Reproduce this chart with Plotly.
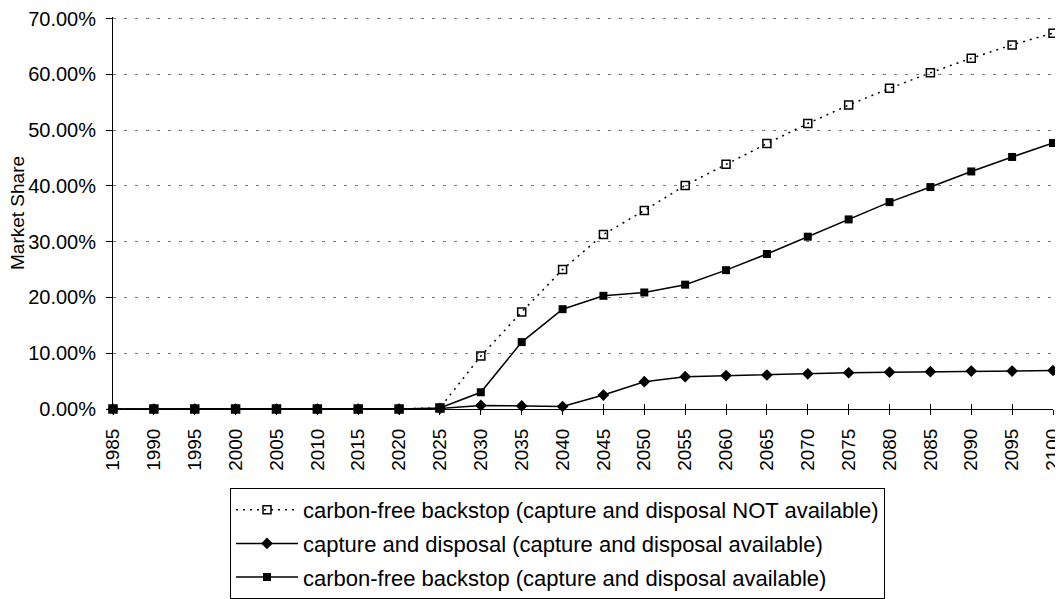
import plotly.graph_objects as go

years = [1985, 1990, 1995, 2000, 2005, 2010, 2015, 2020, 2025, 2030, 2035, 2040,
         2045, 2050, 2055, 2060, 2065, 2070, 2075, 2080, 2085, 2090, 2095, 2100]

# Market share (%)
backstop_no_cd = [0, 0, 0, 0, 0, 0, 0, 0, 0.2, 9.5, 17.4, 25.0,
                  31.3, 35.6, 40.1, 43.9, 47.6, 51.2, 54.5, 57.5, 60.3, 62.9, 65.3, 67.4]
capture_disposal = [0, 0, 0, 0, 0, 0, 0, 0, 0.1, 0.65, 0.55, 0.45,
                    2.5, 4.9, 5.8, 6.0, 6.1, 6.3, 6.5, 6.6, 6.7, 6.8, 6.8, 6.9]
backstop_cd = [0, 0, 0, 0, 0, 0, 0, 0, 0.2, 3.0, 12.0, 17.9,
               20.3, 20.9, 22.3, 24.9, 27.8, 30.9, 34.0, 37.1, 39.8, 42.6, 45.2, 47.7]

names = ["carbon-free backstop (capture and disposal NOT available)",
         "capture and disposal (capture and disposal available)",
         "carbon-free backstop (capture and disposal available)"]

y_ticks = [0, 10, 20, 30, 40, 50, 60, 70]
y_tick_labels = ["0.00%", "10.00%", "20.00%", "30.00%", "40.00%", "50.00%", "60.00%", "70.00%"]
x_tick_labels = [str(y) for y in years]

FONT = "Liberation Sans, Arial, sans-serif"

# page body has an 8px default margin; figure is sized/placed to compensate
L, R, T, B = 105, 10, 9, 190
W, H = 1055, 591
PW, PH = W - L - R, H - T - B

fig = go.Figure()
fig.add_trace(go.Scatter(
    x=years, y=backstop_no_cd, name=names[0], mode="lines+markers", legendgroup="a",
    line=dict(color="black", width=1.5, dash="2px,5px"),
    marker=dict(symbol="square-open", size=8, color="black", line=dict(width=1.5)),
    cliponaxis=False))
fig.add_trace(go.Scatter(
    x=years, y=capture_disposal, name=names[1], mode="lines+markers", legendgroup="b",
    line=dict(color="black", width=1.5),
    marker=dict(symbol="diamond", size=9, color="black"),
    cliponaxis=False))
fig.add_trace(go.Scatter(
    x=years, y=backstop_cd, name=names[2], mode="lines+markers", legendgroup="c",
    line=dict(color="black", width=1.5),
    marker=dict(symbol="square", size=8, color="black"),
    cliponaxis=False))

# invisible trace on overlaying axis to get ticks crossing the x axis line
fig.add_trace(go.Scatter(x=[years[0], years[-1]], y=[0, 0], xaxis="x2", mode="lines",
                         line=dict(width=0), showlegend=False, hoverinfo="skip"))

fig.update_layout(
    width=W, height=H,
    paper_bgcolor="white", plot_bgcolor="white",
    margin=dict(l=L, r=R, t=T, b=B, autoexpand=False),
    font=dict(family=FONT, size=18, color="black"),
    showlegend=True,
    legend=dict(
        x=(222 - L) / PW, y=(T + PH - 480) / PH, xanchor="left", yanchor="top",
        bordercolor="black", borderwidth=1, bgcolor="white",
        font=dict(family=FONT, size=22, color="black"),
        tracegroupgap=2, itemwidth=62,
    ),
    xaxis=dict(
        range=[1985, 2100], tickmode="array", tickvals=years, ticktext=x_tick_labels,
        tickangle=-90, showgrid=False, zeroline=False,
        showline=True, linecolor="black", linewidth=1,
        ticks="outside", ticklen=5, tickcolor="black", tickwidth=1,
        tickfont=dict(family=FONT, size=19, color="black"),
        ticklabelstandoff=6, ticklabeloverflow="allow",
    ),
    xaxis2=dict(
        range=[1985, 2100], overlaying="x", anchor="y", side="bottom",
        tickmode="array", tickvals=years, showticklabels=False,
        ticks="inside", ticklen=5, tickcolor="black", tickwidth=1,
        showgrid=False, zeroline=False, showline=False,
    ),
    yaxis=dict(
        range=[0, 70.3], tickmode="array", tickvals=y_ticks, ticktext=y_tick_labels,
        showgrid=True, gridcolor="#777777", gridwidth=1, griddash="3px,8px",
        zeroline=False, showline=True, linecolor="black", linewidth=1,
        ticks="outside", ticklen=6, tickcolor="black", tickwidth=1,
        tickfont=dict(family=FONT, size=20, color="black"),
        ticklabelstandoff=6, ticklabeloverflow="allow",
    ),
    annotations=[dict(
        text="Market Share", textangle=-90, xref="paper", yref="paper",
        x=(9 - L) / PW, y=0.5, xanchor="center", yanchor="middle",
        showarrow=False, font=dict(family=FONT, size=19, color="black"),
    )],
)

fig.write_html("out.html")
